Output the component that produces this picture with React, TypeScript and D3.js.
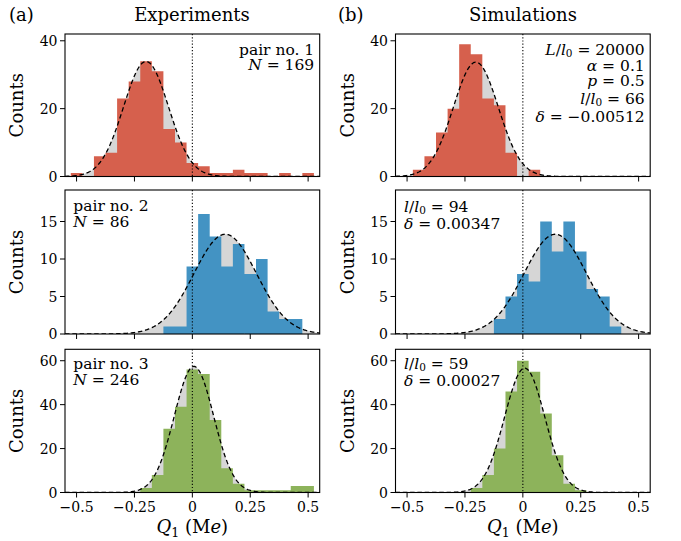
import React from 'react'
import * as d3 from 'd3'

const width = 681
const height = 541
const font = '"DejaVu Serif", serif'

// histogram bins (centres), 0.05 wide
const binCenters = [
  -0.5, -0.45, -0.4, -0.35, -0.3, -0.25, -0.2, -0.15, -0.1, -0.05, 0,
  0.05, 0.1, 0.15, 0.2, 0.25, 0.3, 0.35, 0.4, 0.45, 0.5,
]
const binWidth = 0.05

// counts
const expPair1 = [1, 0, 6, 7, 23, 28, 34, 31, 14, 10, 4, 3, 1, 1, 2, 1, 1, 0, 1, 0, 1]
const simPair1 = [0, 2, 6, 13, 20, 39, 36, 23, 21, 7, 0, 2, 0, 0, 0, 0, 0, 0, 0, 0, 0]
const expPair2 = [0, 0, 0, 0, 0, 0, 0, 0, 1, 1, 9, 16, 13, 9, 12, 8, 10, 3, 2, 2, 0]
const simPair2 = [0, 0, 0, 0, 0, 0, 0, 0, 2, 5, 8, 7, 15, 11, 15, 11, 6, 5, 1, 0, 0]
const expPair3 = [0, 0, 0, 0, 0, 0, 2, 8, 29, 39, 56, 54, 33, 11, 4, 1, 1, 1, 1, 3, 3]
const simPair3 = [0, 0, 0, 0, 0, 0, 2, 8, 20, 46, 60, 55, 36, 17, 4, 1, 0, 0, 0, 0, 0]

// gaussian fits: [mean, sigma, peak]
const fitExp1 = [-0.2, 0.097, 33.9]
const fitSim1 = [-0.203, 0.097, 33.7]
const fitExp2 = [0.142, 0.135, 13.3]
const fitSim2 = [0.14, 0.135, 13.3]
const fitExp3 = [0.007, 0.085, 57.4]
const fitSim3 = [0.008, 0.087, 56.6]

const xTicks = [-0.5, -0.25, 0, 0.25, 0.5]
const xTickLabels = ['−0.5', '−0.25', '0', '0.25', '0.5']
const yTicksRow1 = [0, 20, 40]
const yTicksRow2 = [0, 5, 10, 15]
const yTicksRow3 = [0, 20, 40, 60]
const yMaxRow = [42, 19.2, 65.2]

const red = '#d6604d'
const blue = '#4393c3'
const green = '#8db35b'
const gray = '#d6d6d6'

const colLeft = [65, 395.5]
const plotW = 254.7
const rowTop = [34, 190, 349.3]
const rowBottom = [176.5, 334, 492.5]

function Panel({ col, row, counts, fit, color, yTicks, showX, children }) {
  const left = colLeft[col]
  const top = rowTop[row]
  const bottom = rowBottom[row]
  const x = d3.scaleLinear().domain([-0.55, 0.55]).range([left, left + plotW])
  const y = d3.scaleLinear().domain([0, yMaxRow[row]]).range([bottom, top])
  const [mu, sigma, amp] = fit
  const g = (q) => amp * Math.exp(-((q - mu) ** 2) / (2 * sigma * sigma))
  const grid = d3.range(-0.55, 0.5501, 0.0025)
  const area = d3.area().x((q) => x(q)).y0(y(0)).y1((q) => y(g(q)))
  const line = d3.line().x((q) => x(q)).y((q) => y(g(q)))
  const clipId = `clip-${col}-${row}`

  // all bars in one path so neighbouring bars have no seams
  const bars = d3.path()
  binCenters.forEach((c, i) => {
    if (counts[i] <= 0) return
    const x0 = x(c - binWidth / 2)
    const x1 = x(c + binWidth / 2)
    bars.rect(x0, y(counts[i]), x1 - x0, y(0) - y(counts[i]))
  })

  return (
    <g>
      <clipPath id={clipId}>
        <rect x={left} y={top} width={plotW} height={bottom - top} />
      </clipPath>
      <g clipPath={`url(#${clipId})`}>
        <path d={area(grid)} fill={gray} />
        <path d={bars.toString()} fill={color} />
        <path d={line(grid)} fill="none" stroke="black" strokeWidth={1.3} strokeDasharray="4.5,2.8" />
        <line x1={x(0)} x2={x(0)} y1={top} y2={bottom} stroke="black" strokeWidth={1.1} strokeDasharray="1.2,2" />
      </g>
      <rect x={left} y={top} width={plotW} height={bottom - top} fill="none" stroke="black" strokeWidth={1.1} />
      {xTicks.map((t, i) => (
        <g key={t}>
          <line x1={x(t)} x2={x(t)} y1={bottom} y2={bottom + 5} stroke="black" strokeWidth={1} />
          {showX && (
            <text x={x(t)} y={bottom + 19} textAnchor="middle" fontSize={14} fontFamily={font}>
              {xTickLabels[i]}
            </text>
          )}
        </g>
      ))}
      {yTicks.map((t) => (
        <g key={t}>
          <line x1={left - 5} x2={left} y1={y(t)} y2={y(t)} stroke="black" strokeWidth={1} />
          <text x={left - 7.5} y={y(t)} dy="0.36em" textAnchor="end" fontSize={14} fontFamily={font}>
            {t}
          </text>
        </g>
      ))}
      <text
        transform={`translate(${left - 42},${(top + bottom) / 2}) rotate(-90)`}
        textAnchor="middle"
        fontSize={18}
        fontFamily={font}
      >
        Counts
      </text>
      {showX && (
        <text x={left + plotW / 2} y={533} textAnchor="middle" fontSize={18} fontFamily={font} style={{ whiteSpace: 'pre' }}>
          <tspan fontStyle="italic">Q</tspan>
          <tspan fontSize={12.5} dy={3.5}>1</tspan>
          <tspan dy={-3.5}>{' (M'}</tspan>
          <tspan fontStyle="italic">e</tspan>
          <tspan>)</tspan>
        </text>
      )}
      {children}
    </g>
  )
}

const it = { fontStyle: 'italic' }
const sub = 10.5
const subShift = 2.2

// one <text> per annotation block, lines placed with tspans
function Note({ x, anchor, lines }) {
  return (
    <text textAnchor={anchor} fontSize={15.5} fontFamily={font} style={{ whiteSpace: 'pre' }}>
      {lines.map((l, i) => (
        <tspan key={i} x={x} y={l.y}>
          {l.parts}
        </tspan>
      ))}
    </text>
  )
}

const ratio = (num, rest) => [
  <tspan key="a" style={it}>{num}</tspan>,
  '/',
  <tspan key="b" style={it}>l</tspan>,
  <tspan key="c" fontSize={sub} dy={subShift}>0</tspan>,
  <tspan key="d" dy={-subShift}>{rest}</tspan>,
]

export default function App() {
  const rE = colLeft[0] + plotW - 5.5
  const rS = colLeft[1] + plotW - 5.5
  const lE = colLeft[0] + 8.3
  const lS = colLeft[1] + 8.5
  return (
    <svg width={width} height={height} style={{ position: 'absolute', left: 0, top: 0, background: 'white' }}>
      <text x={9} y={21} fontSize={18} fontFamily={font}>(a)</text>
      <text x={192} y={21} textAnchor="middle" fontSize={18} fontFamily={font}>Experiments</text>
      <text x={338} y={21} fontSize={18} fontFamily={font}>(b)</text>
      <text x={523} y={21} textAnchor="middle" fontSize={18} fontFamily={font}>Simulations</text>

      <Panel col={0} row={0} counts={expPair1} fit={fitExp1} color={red} yTicks={yTicksRow1} showX={false}>
        <Note
          x={rE}
          anchor="end"
          lines={[
            { y: 55, parts: 'pair no. 1' },
            { y: 70, parts: [<tspan key="n" style={it}>N</tspan>, ' = 169'] },
          ]}
        />
      </Panel>
      <Panel col={1} row={0} counts={simPair1} fit={fitSim1} color={red} yTicks={yTicksRow1} showX={false}>
        <Note
          x={rS}
          anchor="end"
          lines={[
            { y: 54.5, parts: ratio('L', ' = 20000') },
            { y: 70.5, parts: [<tspan key="a" style={it}>α</tspan>, ' = 0.1'] },
            { y: 85.5, parts: [<tspan key="p" style={it}>p</tspan>, ' = 0.5'] },
            { y: 103.5, parts: ratio('l', ' = 66') },
            { y: 121.5, parts: [<tspan key="d" style={it}>δ</tspan>, ' = −0.00512'] },
          ]}
        />
      </Panel>

      <Panel col={0} row={1} counts={expPair2} fit={fitExp2} color={blue} yTicks={yTicksRow2} showX={false}>
        <Note
          x={lE}
          anchor="start"
          lines={[
            { y: 211, parts: 'pair no. 2' },
            { y: 227, parts: [<tspan key="n" style={it}>N</tspan>, ' = 86'] },
          ]}
        />
      </Panel>
      <Panel col={1} row={1} counts={simPair2} fit={fitSim2} color={blue} yTicks={yTicksRow2} showX={false}>
        <Note
          x={lS}
          anchor="start"
          lines={[
            { y: 211.5, parts: ratio('l', ' = 94') },
            { y: 229, parts: [<tspan key="d" style={it}>δ</tspan>, ' = 0.00347'] },
          ]}
        />
      </Panel>

      <Panel col={0} row={2} counts={expPair3} fit={fitExp3} color={green} yTicks={yTicksRow3} showX={true}>
        <Note
          x={lE}
          anchor="start"
          lines={[
            { y: 368.5, parts: 'pair no. 3' },
            { y: 385, parts: [<tspan key="n" style={it}>N</tspan>, ' = 246'] },
          ]}
        />
      </Panel>
      <Panel col={1} row={2} counts={simPair3} fit={fitSim3} color={green} yTicks={yTicksRow3} showX={true}>
        <Note
          x={lS}
          anchor="start"
          lines={[
            { y: 368.5, parts: ratio('l', ' = 59') },
            { y: 386, parts: [<tspan key="d" style={it}>δ</tspan>, ' = 0.00027'] },
          ]}
        />
      </Panel>
    </svg>
  )
}
